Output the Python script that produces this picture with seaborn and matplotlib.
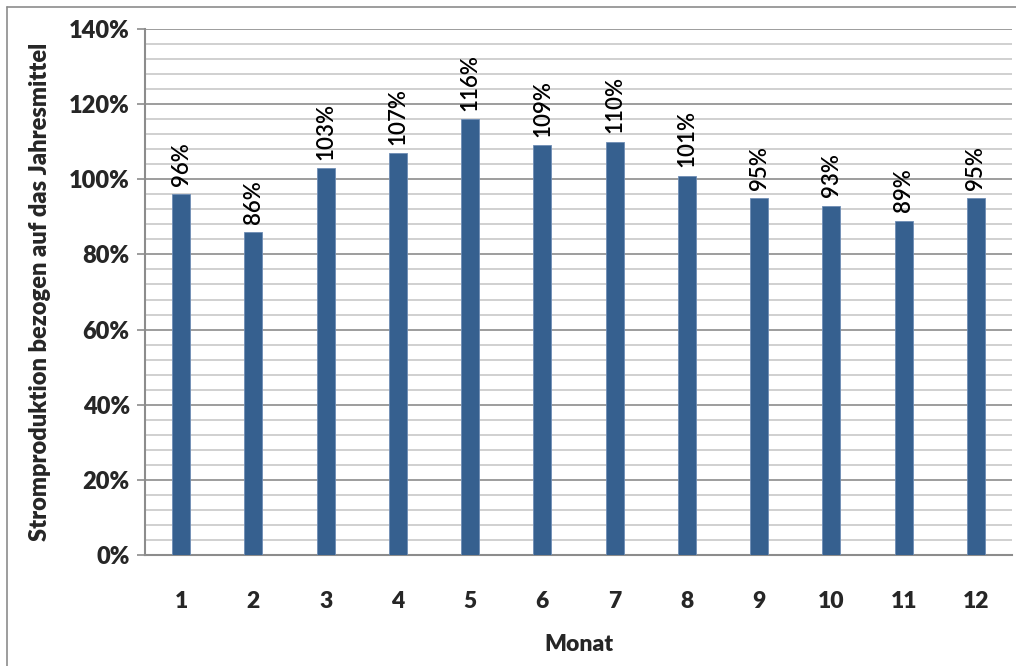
import matplotlib
matplotlib.use("Agg")
import matplotlib.pyplot as plt
from matplotlib.ticker import MultipleLocator, PercentFormatter
from matplotlib.lines import Line2D
import seaborn as sns
import pandas as pd

# Monthly power production relative to the annual mean (%)
monate = [str(m) for m in range(1, 13)]
anteil = [96, 86, 103, 107, 116, 109, 110, 101, 95, 93, 89, 95]

sns.set_theme(style="white")
plt.rcParams["font.family"] = ["Lato", "DejaVu Sans"]

df = pd.DataFrame({"Monat": monate, "Anteil": anteil})

fig = plt.figure(figsize=(10.16, 6.66), dpi=100)
ax = fig.add_axes([145 / 1016, 1 - 555 / 666, (1012 - 145) / 1016, (555 - 29) / 666])

sns.barplot(data=df, x="Monat", y="Anteil", color="#36608F", width=0.25,
            saturation=1, ax=ax, zorder=3, edgecolor="#6E8DB5", linewidth=0.6)

ax.set_ylim(0, 140)
ax.set_xlim(-0.5, 11.5)
ax.yaxis.set_major_locator(MultipleLocator(20))
ax.yaxis.set_minor_locator(MultipleLocator(4))
ax.yaxis.set_major_formatter(PercentFormatter(decimals=0))
ax.grid(axis="y", which="major", color="#8C8C8C", linewidth=1.2, zorder=0)
ax.grid(axis="y", which="minor", color="#C8C8C8", linewidth=1.2, zorder=0)
ax.grid(axis="x", visible=False)

for side in ("top", "right"):
    ax.spines[side].set_visible(False)
for side in ("left", "bottom"):
    ax.spines[side].set_color("#8C8C8C")
    ax.spines[side].set_linewidth(1.5)

ax.tick_params(axis="y", which="major", left=True, length=6, width=1.2,
               color="#8C8C8C", labelsize=17, pad=5)
ax.tick_params(axis="y", which="minor", left=False)
ax.tick_params(axis="x", bottom=False, labelsize=16.5, pad=20)
for lab in ax.get_xticklabels() + ax.get_yticklabels():
    lab.set_fontweight("heavy")

ax.set_xlabel("Monat", fontsize=16.5, fontweight="heavy", labelpad=16)
ax.set_ylabel("Stromproduktion bezogen auf das Jahresmittel", fontsize=17,
              fontweight="heavy", labelpad=13)

for i, v in enumerate(anteil):
    ax.annotate(f"{v}%", xy=(i, v), xytext=(0, 6), textcoords="offset points",
                rotation=90, ha="center", va="bottom", fontsize=16,
                fontweight="semibold", color="black")

# outer chart frame
fig.add_artist(Line2D([7 / 1016, 1.0], [1 - 7 / 666, 1 - 7 / 666],
                      transform=fig.transFigure, color="#8C8C8C", linewidth=1.2))
fig.add_artist(Line2D([7 / 1016, 7 / 1016], [0.0, 1 - 7 / 666],
                      transform=fig.transFigure, color="#8C8C8C", linewidth=1.2))

fig.savefig("out.png", dpi=100, facecolor="white")
